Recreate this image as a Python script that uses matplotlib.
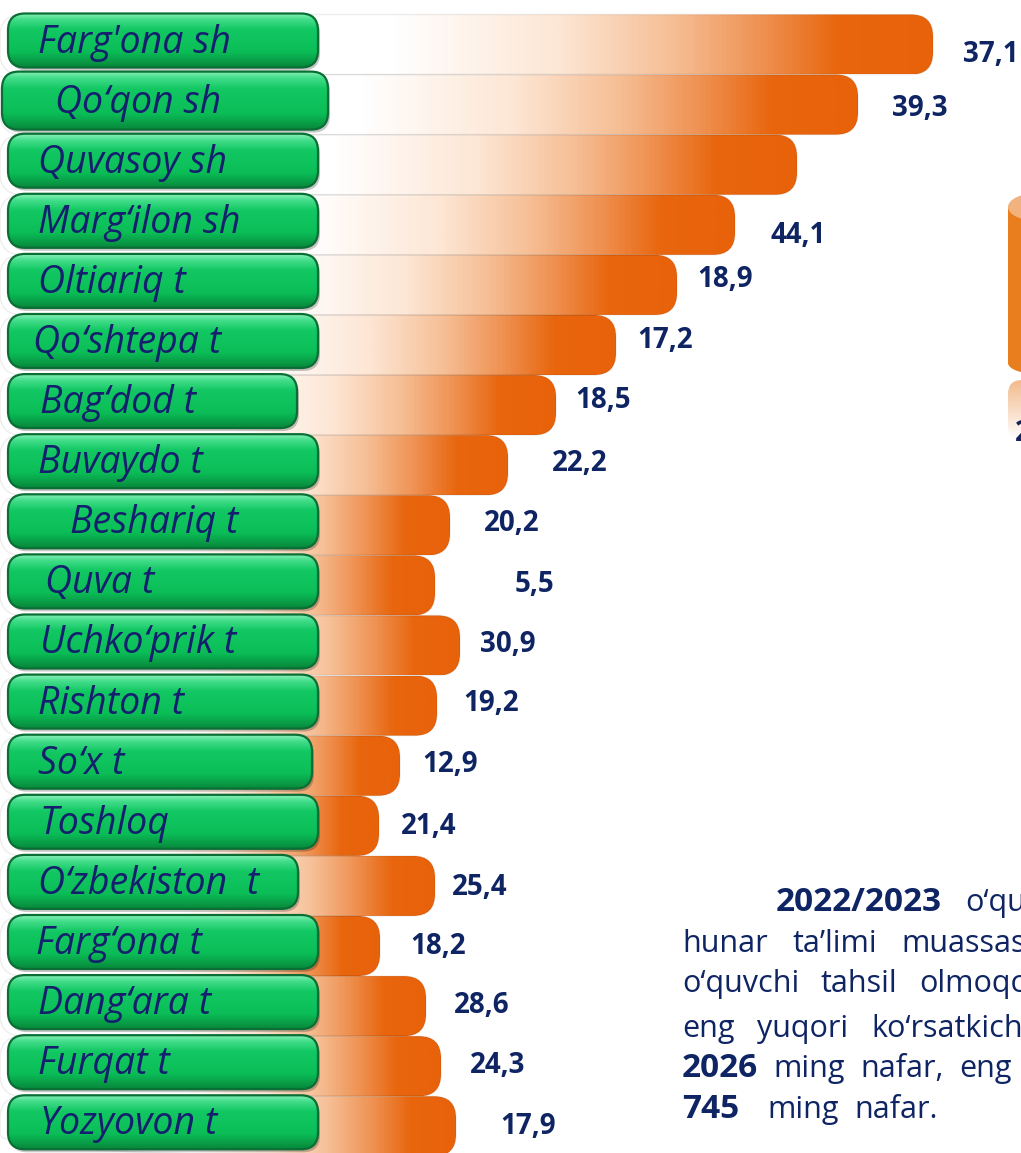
import numpy as np
import matplotlib
matplotlib.use("Agg")
import matplotlib.pyplot as plt
from matplotlib.patches import FancyBboxPatch, Ellipse, Rectangle
from matplotlib.colors import LinearSegmentedColormap

# districts (top to bottom) and the numbers printed next to the bars
districts = ["Farg'ona sh", "Qo\u2018qon sh", "Quvasoy sh", "Marg\u2018ilon sh", "Oltiariq t",
             "Qo\u2018shtepa t", "Bag\u2018dod t", "Buvaydo t", "Beshariq t", "Quva t",
             "Uchko\u2018prik t", "Rishton t", "So\u2018x t", "Toshloq", "O\u2018zbekiston  t",
             "Farg\u2018ona t", "Dang\u2018ara t", "Furqat t", "Yozyovon t"]
values = [37.1, 39.3, None, 44.1, 18.9, 17.2, 18.5, 22.2, 20.2, 5.5,
          30.9, 19.2, 12.9, 21.4, 25.4, 18.2, 28.6, 24.3, 17.9]
# bar lengths as drawn on the slide (not proportional to the values)
bar_len = [933, 858, 797, 735, 677, 616, 556, 508, 450, 435,
           460, 437, 400, 379, 435, 380, 426, 441, 456]

# layout tweaks
btn_right = [318, 328, 318, 318, 318, 318, 297, 318, 318, 318,
             318, 318, 312, 318, 298, 318, 318, 318, 318]
name_x = [38, 55, 38, 38, 38, 33, 40, 38, 70, 45, 40, 38, 38, 40, 38, 36, 38, 38, 40]
label_dx = [30, 34, 0, 35, 20, 21, 19, 44, 34, 80, 20, 26, 22, 22, 17, 30, 28, 29, 44]
label_dy = [8, 1, 0, 8, -8, -7, -7, -4, -4, -3, -4, -5, -4, -2, -1, -2, -3, -3, -2]

navy = "#0f2463"
name_col = "#14206e"

W, H = 1021, 1153
fig = plt.figure(figsize=(W / 100, H / 100), dpi=100)
ax = fig.add_axes([0, 0, 1, 1])
ax.set_xlim(0, W)
ax.set_ylim(H, 0)
ax.axis("off")

bar_cmap = LinearSegmentedColormap.from_list("bar", [
    (0, "#ffffff"), (0.42, "#ffffff"), (0.6, "#fde6d4"), (0.72, "#f6bf96"),
    (0.82, "#ef9050"), (0.9, "#e8660e"), (1, "#e8620a")])
green_cmap = LinearSegmentedColormap.from_list("btn", [
    (0, "#86f0b6"), (0.12, "#40dc88"), (0.3, "#12c863"), (0.72, "#0bbd57"), (1, "#07883b")])

hgrad = np.linspace(0, 1, 400).reshape(1, -1)
vgrad = np.linspace(0, 1, 100).reshape(-1, 1)

pitch = 60.1
bar_h = 60
btn_h = 54

# orange gradient bars
for i, L in enumerate(bar_len):
    yc = 44.5 + pitch * i
    top = yc - bar_h / 2
    patch = FancyBboxPatch((0, top), L, bar_h, boxstyle="round,pad=0,rounding_size=22",
                           fc="none", ec=(0, 0, 0, 0.07), lw=1, zorder=2)
    ax.add_patch(patch)
    im = ax.imshow(hgrad, extent=[0, L, top + bar_h, top], cmap=bar_cmap,
                   aspect="auto", zorder=1, interpolation="bilinear")
    im.set_clip_path(patch)

    v = values[i]
    if v is not None:
        ax.text(L + label_dx[i], yc + label_dy[i] + 10, f"{v:.1f}".replace(".", ","),
                fontsize=20, fontweight="bold", color=navy, family="Open Sans",
                ha="left", va="baseline", zorder=5)

# green name buttons
for i, name in enumerate(districts):
    yc = 40.5 + pitch * i
    x0, x1 = 8, btn_right[i]
    h = btn_h + (4 if i == 1 else 0)
    if i == 1:
        x0 = 2
    top = yc - h / 2
    shadow = FancyBboxPatch((x0 + 2, top + 3), x1 - x0, h, boxstyle="round,pad=0,rounding_size=17",
                            fc="black", ec="none", alpha=0.22, zorder=10 + 3 * i)
    ax.add_patch(shadow)
    box = FancyBboxPatch((x0, top), x1 - x0, h, boxstyle="round,pad=0,rounding_size=17",
                         fc="none", ec="#0a6e35", lw=1.6, zorder=12 + 3 * i)
    ax.add_patch(box)
    im = ax.imshow(vgrad, extent=[x0, x1, top + h, top], cmap=green_cmap,
                   aspect="auto", zorder=11 + 3 * i, interpolation="bilinear")
    im.set_clip_path(box)
    ax.text(name_x[i], yc + 12, name, fontsize=27, style="italic", color=name_col,
            family="Open Sans", ha="left", va="baseline", zorder=100)

# cylinder peeking in at the right edge
cyl = "#e97e1e"
ax.add_patch(Rectangle((1008, 207), 60, 156, fc=cyl, ec="none", zorder=3))
ax.add_patch(Ellipse((1038, 363), 60, 22, fc=cyl, ec="none", zorder=3))
ax.add_patch(Ellipse((1038, 207), 60, 28, fc="#f2b27e", ec="none", zorder=4))
refl = FancyBboxPatch((1008, 380), 60, 60, boxstyle="round,pad=0,rounding_size=14",
                      fc="none", ec="none", zorder=3)
ax.add_patch(refl)
im = ax.imshow(vgrad, extent=[1008, 1068, 440, 380],
               cmap=LinearSegmentedColormap.from_list("r", ["#f2bb8c", "#ffffff"]),
               aspect="auto", zorder=3)
im.set_clip_path(refl)
ax.text(1015, 441, "2", fontsize=20, fontweight="bold", color=navy, family="Open Sans",
        ha="left", va="baseline", zorder=5)

# justified text block, cut off by the slide edge
# (baseline, start x, right end of the line, words with bold flag)
txt = [
    (911, 776, 1026, [("2022/2023", True), ("o\u2018qu", False)]),
    (952, 682, 1026, [("hunar", False), ("ta\u2019limi", False), ("muassas", False)]),
    (992, 682, 1025, [("o\u2018quvchi", False), ("tahsil", False), ("olmoqc", False)]),
    (1037, 682, 1023, [("eng", False), ("yuqori", False), ("ko\u2018rsatkich", False)]),
    (1077, 682, 1012, [("2026", True), ("ming", False), ("nafar,", False), ("eng", False)]),
    (1118, 682, None, [("745", True), ("ming", False), ("nafar.", False)]),
]
renderer = fig.canvas.get_renderer()
for yb, x_start, x_end, words in txt:
    items = []
    for w, b in words:
        t = ax.text(0, yb, w, fontsize=24 if b else 22, fontweight="bold" if b else "normal",
                    color=navy, family="Open Sans", ha="left", va="baseline", zorder=5)
        bb = t.get_window_extent(renderer)
        items.append((t, bb.width * W / fig.bbox.width))
    total = sum(wd for _, wd in items)
    if x_end is None:
        gap = 16
    else:
        gap = (x_end - x_start - total) / (len(items) - 1)
    x = x_start
    for k, (t, wd) in enumerate(items):
        t.set_x(x)
        x += wd + (gap + 12 if (x_end is None and k == 0) else gap)

fig.savefig("out.png", dpi=100, facecolor="white")
